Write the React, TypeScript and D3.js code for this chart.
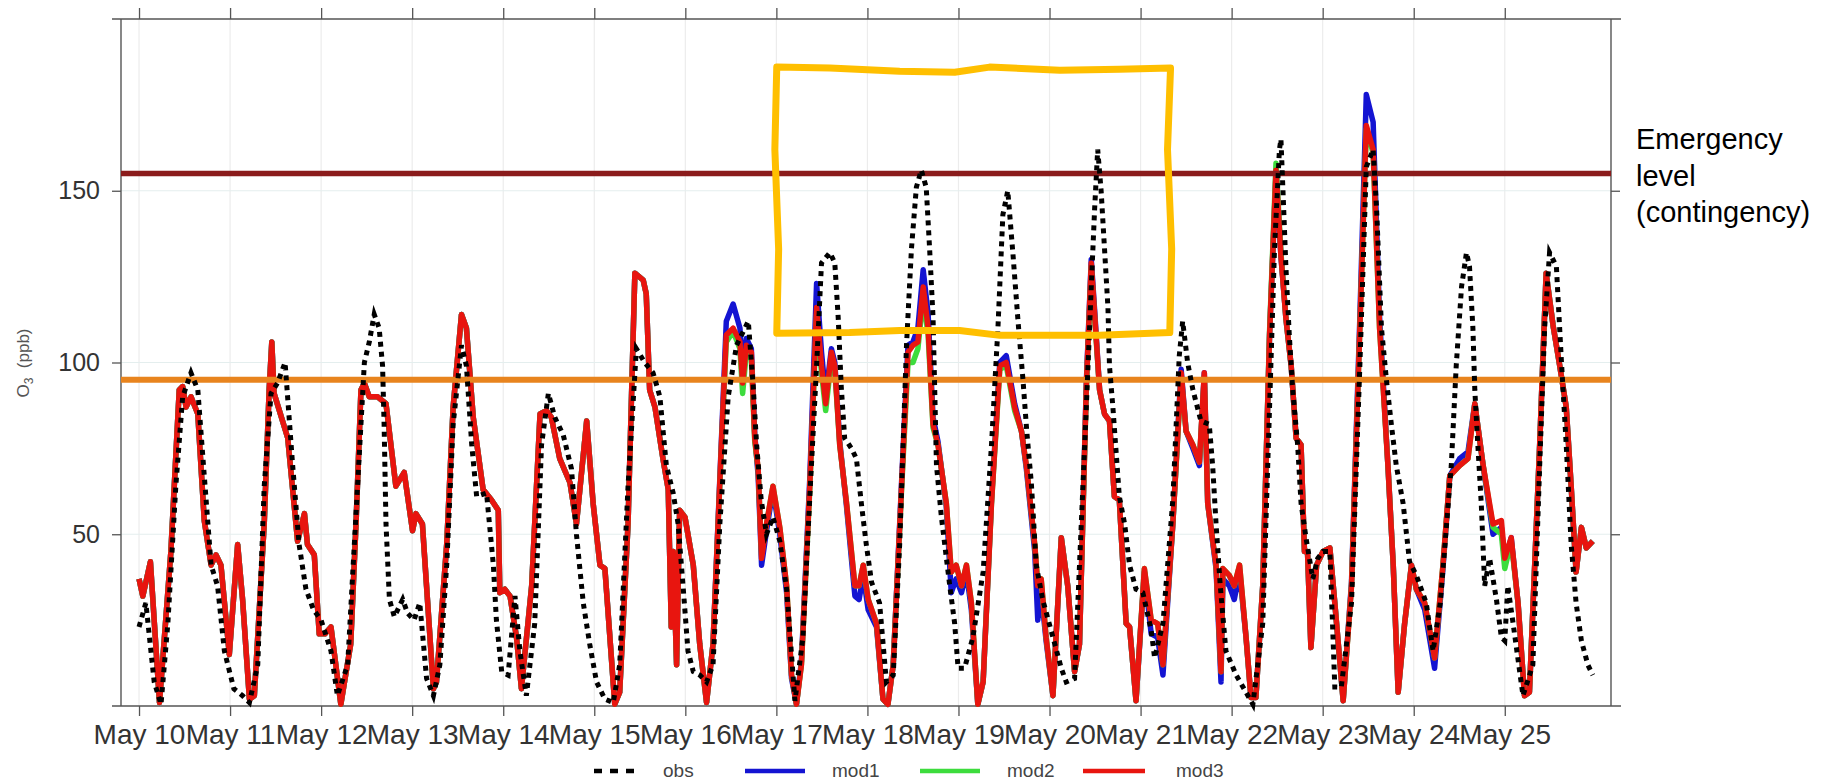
import React, { useEffect, useRef } from 'react';
import * as d3 from 'd3';

// day ticks along the time axis
const dayLabels = [
  'May 10', 'May 11', 'May 12', 'May 13', 'May 14', 'May 15', 'May 16', 'May 17',
  'May 18', 'May 19', 'May 20', 'May 21', 'May 22', 'May 23', 'May 24', 'May 25',
];
const yTickValues = [50, 100, 150];
const legendNames = ['obs', 'mod1', 'mod2', 'mod3'];
const emergencyLevel = 155;
const alertLevel = 95;
const noteLines = ['Emergency', 'level', '(contingency)'];

// observed O3, hours after May 10 00:00
const obsHours = [
  0, 1.8, 4, 5.8, 7.6, 9.7, 11.5, 13.7, 15.5, 17.2, 19, 20.7, 22.5, 25, 27.3,
  29.1, 31.3, 33, 34.8, 36.5, 38.5, 40.5, 42.2, 44, 46, 48, 50.6, 52.3, 55, 57.6,
  59.4, 60.7, 62, 63.3, 64.2, 64.6, 65.1, 66, 67.3, 69.5, 70.8, 72.5, 74, 75.8, 77.6,
  79.3, 81.1, 82.8, 85, 86.3, 87.7, 89, 91.6, 93.4, 94.2, 95.6, 97.3, 99.1, 100.4, 102.1,
  104.3, 106.1, 107.9, 109.6, 111.8, 114, 115.3, 117.1, 118.8, 120.6, 122.8, 125, 126.7, 128.9, 131.1,
  133.3, 135.5, 137.3, 139, 140.8, 142.1, 143.4, 144.7, 146.1, 147.8, 149.6, 151.3, 153.1, 155.3, 157.5,
  160.6, 161.9, 162.8, 164, 165.4, 167.1, 168.9, 170.7, 172.9, 175, 177, 178.6, 179.9, 182.1, 183.4,
  184.3, 185.1, 186, 187.8, 189.1, 190.4, 191.7, 193.1, 195.2, 197, 198.8, 200.5, 202.3, 203.6, 204.9,
  206.2, 207.5, 208.4, 209.3, 210.2, 211.5, 213.7, 215, 215.9, 217.6, 219.8, 222.5, 224.7, 226.4, 227.7,
  229, 230.4, 231.7, 233, 234, 235.2, 236.5, 238.2, 240.9, 243.1, 244.4, 246.6, 247.9, 249.7, 251,
  251.9, 252.7, 253.6, 254.5, 255.4, 255.8, 256.7, 258.4, 259.8, 261.1, 262.8, 264.6, 266.8, 267.7, 269.9,
  272.5, 274.2, 275.1, 276.4, 277.8, 279.9, 282.1, 283, 283.9, 285, 286.5, 289.2, 291, 293.6, 296.2,
  298, 299.3, 300.6, 301, 301.5, 302.3, 303.2, 304.1, 305.4, 306.3, 307.6, 309.4, 310.7, 312.1, 313.9,
  315.2, 316.9, 319.6, 321.8, 323.5, 325.3, 326.2, 327.5, 328.8, 330.1, 331.4, 333.2, 334.9, 336.7, 339.3,
  341.1, 343, 345.9, 347.2, 348.6, 349.9, 350.7, 351.6, 352.1, 352.9, 353.8, 354.7, 356, 357.8, 359.1,
  360, 360.8, 362.2, 364.8, 367.4, 369.2, 370.5, 371.8, 373.6, 374.9, 376.2, 377.5, 378.8, 380.2, 381.9, 383.2,
];
const obsValues = [
  23, 30, 7, 0.5, 24, 64, 90, 97, 92, 67, 41, 35, 16, 5, 3,
  1, 12, 64, 91, 94, 100, 70, 47, 34, 28, 25, 16, 3, 12, 64,
  100, 106, 114, 110, 99, 82, 53, 31, 26, 31, 27, 25, 30, 8, 3,
  12, 41, 82, 105, 99, 76, 61, 62, 41, 25, 10, 9, 32, 16, 3,
  24, 76, 91, 84, 79, 69, 50, 30, 18, 7, 2, 1, 12, 64, 104,
  100, 97, 90, 70, 62, 53, 35, 16, 10, 9, 7, 12, 53, 90, 105,
  112, 93, 76, 60, 50, 55, 48, 34, 1.5, 20, 65, 99, 129, 132, 129,
  113, 93, 78, 75, 72, 59, 47, 36, 30, 7, 9, 47, 105, 133, 151,
  156, 151, 133, 113, 70, 55, 35, 24, 11, 11, 20, 39, 76, 110, 143,
  150, 131, 112, 95, 80, 65, 41, 31, 20, 11, 7, 8, 41, 87, 122,
  145, 162, 150, 133, 116, 99, 87, 61, 53, 41, 34, 33, 22, 14, 24,
  60, 102, 112, 100, 92, 83, 82, 70, 53, 35, 16, 9, 5.5, 0.5, 24,
  87, 133, 162, 165, 151, 128, 108, 92, 76, 59, 49, 37, 43, 45, 45,
  5.5, 5.5, 30, 99, 157, 162, 145, 110, 95, 82, 70, 59, 42, 38, 30,
  16, 30, 70, 99, 122, 132, 128, 110, 92, 76, 59, 35, 43, 31, 20,
  19, 35, 24, 3, 12, 70, 110, 132, 128, 101, 76, 47, 30, 19, 12, 9,
];

// model runs share one time grid
const modelHours = [
  0, 1, 3, 5.4, 8.4, 10.6, 11.5, 12.4, 13.7, 15.5, 17.2, 19, 20.3, 21.6, 23.8,
  26, 27.3, 29.1, 30.4, 33, 34.3, 35, 35.6, 37, 39.2, 41.8, 43.6, 44.4, 46.2, 47.5,
  49, 50.6, 53.2, 55.8, 57.2, 58.5, 59.4, 60.7, 62.9, 65.1, 67.7, 69.9, 72.1, 73, 74.7,
  77.6, 78.4, 81.1, 82.8, 85, 86.3, 88.1, 90.7, 92.9, 94.7, 95.1, 96.4, 97.8, 99.5, 100.8,
  103.5, 105.7, 107.4, 108.7, 110.9, 113.6, 115.3, 118, 119.7, 121.5, 122.8, 125.4, 126.7, 128.9, 130.7,
  132.9, 133.7, 134.6, 136, 138.1, 139.5, 140.3, 140.8, 141.7, 142.5, 143.9, 146.1, 147.8, 149.6, 151.3,
  153.5, 154.8, 156.6, 158.4, 159.1, 160.1, 161.4, 162.3, 163.2, 164.1, 165.4, 167.1, 168.9, 170.7, 172,
  173.3, 174.6, 176.8, 178.6, 179.9, 181, 182.5, 183.4, 184.7, 186.5, 188.7, 189.8, 190.9, 192.2, 194.4,
  196.1, 197.4, 198.8, 201, 202.7, 204, 205.3, 206.7, 208, 209.3, 210.6, 212.8, 214.1, 215.4, 216.8,
  218.1, 219.4, 221.1, 222.5, 224.7, 226.9, 228.6, 230.8, 232.6, 233.9, 236.1, 236.9, 237.8, 239.1, 240.9,
  243.1, 244.8, 246.6, 247.9, 249.7, 251, 251.9, 253.2, 254.5, 255.8, 257.1, 258.4, 260.2, 261.1, 262.8,
  265, 266.8, 268.5, 269.9, 272.5, 274.7, 276, 277.8, 279.5, 280.8, 281.7, 283.9, 285.2, 285.7, 287.4,
  288.7, 290.1, 291.8, 293.1, 294.4, 296.2, 298, 299.7, 301, 302.3, 303.7, 305, 306.3, 307.2, 308,
  308.9, 310.4, 312.1, 313.9, 315.2, 317.4, 319.6, 321.8, 323.5, 325.3, 327, 329.2, 330.6, 331.9, 333.6,
  335.4, 336.7, 338.9, 341.5, 343.7, 345.5, 348.1, 350.3, 352.1, 354.3, 356.9, 359.1, 360, 361.7, 363.5,
  365.2, 366.5, 369.2, 370.9, 372.7, 374.5, 376.2, 377.5, 378.8, 380.2, 381.5, 383.2,
];
const mod1Values = [
  37, 32, 42, 1, 45, 92, 93, 87, 90, 85, 54, 41, 44, 41, 15,
  47, 31, 2, 3, 53, 92, 106, 91, 86, 78, 48, 56, 47, 44, 21,
  21, 23, 0.5, 18, 53, 92, 94, 90, 90, 88, 64, 68, 51, 56, 53,
  5, 7, 47, 87, 114, 110, 84, 63, 60, 57, 33, 34, 32, 20, 5,
  35, 85, 86, 84, 72, 65, 53, 83, 59, 41, 40, 0.5, 4, 53, 126,
  124, 120, 92, 87, 72, 63, 23, 45, 12, 57, 55, 41, 18, 1, 18,
  77, 112, 117, 110, 97, 107, 104, 79, 67, 41, 51, 63, 50, 33, 8,
  0.5, 13, 66, 123, 103, 90, 104, 100, 77, 58, 32, 31, 38, 28, 23,
  2, 0.5, 12, 65, 105, 106, 110, 127, 114, 84, 77, 58, 33, 37, 33,
  39, 28, 0.5, 7, 60, 100, 102, 88, 80, 69, 45, 25, 33, 19, 3,
  49, 35, 10, 18, 94, 130, 115, 92, 85, 83, 61, 60, 24, 23, 1.5,
  39, 21, 20, 9, 53, 98, 80, 75, 70, 97, 59, 40, 7, 37, 35,
  31, 39, 20, 2.5, 2.5, 35, 108, 155, 131, 113, 99, 78, 76, 45, 45,
  17, 41, 45, 46, 30, 1.5, 36, 113, 178, 170, 113, 70, 41, 4, 24,
  41, 34, 28, 11, 40, 67, 72, 74, 88, 70, 50, 52, 42, 49, 30,
  3, 4, 76, 126, 111, 99, 87, 64, 39, 52, 46, 48,
];
const mod2Values = [
  37, 32, 42, 1, 45, 92, 93, 87, 90, 85, 54, 41, 44, 41, 15,
  47, 31, 2, 3, 53, 92, 106, 91, 86, 78, 48, 56, 47, 44, 21,
  21, 23, 0.5, 18, 53, 92, 94, 90, 90, 88, 64, 68, 51, 56, 53,
  5, 7, 47, 87, 114, 110, 84, 63, 60, 57, 33, 34, 32, 20, 5,
  35, 85, 86, 84, 72, 65, 53, 83, 59, 41, 40, 0.5, 4, 53, 126,
  124, 120, 92, 87, 72, 63, 23, 45, 12, 57, 55, 41, 18, 1, 18,
  75, 106, 109, 104, 91, 103, 101, 77, 69, 44, 53, 64, 52, 35, 9,
  0.5, 12, 63, 114, 97, 86, 101, 98, 76, 59, 35, 35, 41, 31, 24,
  2, 0.5, 12, 63, 100, 100, 104, 119, 108, 81, 76, 59, 39, 41, 35,
  41, 30, 0.5, 7, 59, 98, 99, 86, 80, 70, 47, 36, 37, 20, 3,
  49, 35, 10, 18, 92, 128, 113, 92, 85, 83, 61, 60, 24, 23, 1.5,
  40, 25, 24, 12, 53, 96, 80, 76, 71, 96, 59, 41, 10, 40, 38,
  35, 41, 20, 2.5, 2.5, 35, 109, 158, 132, 113, 99, 78, 76, 45, 45,
  17, 41, 45, 46, 30, 1.5, 35, 110, 168, 161, 110, 70, 41, 4, 24,
  41, 34, 30, 14, 41, 67, 70, 72, 88, 70, 52, 50, 40, 48, 30,
  3, 4, 76, 126, 111, 99, 87, 64, 39, 52, 46, 48,
];
const mod3Values = [
  37, 32, 42, 1, 45, 92, 93, 87, 90, 85, 54, 41, 44, 41, 15,
  47, 31, 2, 3, 53, 92, 106, 91, 86, 78, 48, 56, 47, 44, 21,
  21, 23, 0.5, 18, 53, 92, 94, 90, 90, 88, 64, 68, 51, 56, 53,
  5, 7, 47, 87, 114, 110, 84, 63, 60, 57, 33, 34, 32, 20, 5,
  35, 85, 86, 84, 72, 65, 53, 83, 59, 41, 40, 0.5, 4, 53, 126,
  124, 120, 92, 87, 72, 63, 23, 45, 12, 57, 55, 41, 18, 1, 18,
  76, 108, 110, 106, 94, 105, 103, 78, 69, 43, 53, 64, 52, 35, 9,
  0.5, 12, 64, 116, 99, 88, 103, 99, 76, 59, 35, 35, 41, 31, 24,
  2, 0.5, 12, 64, 103, 105, 106, 122, 110, 82, 76, 59, 39, 41, 35,
  41, 30, 0.5, 7, 59, 99, 100, 87, 80, 70, 47, 35, 37, 20, 3,
  49, 35, 10, 18, 93, 129, 114, 92, 85, 83, 61, 60, 24, 23, 1.5,
  40, 25, 24, 12, 53, 97, 80, 76, 71, 97, 59, 41, 10, 40, 38,
  35, 41, 20, 2.5, 2.5, 35, 108, 156, 131, 113, 99, 78, 76, 45, 45,
  17, 41, 45, 46, 30, 1.5, 35, 110, 169, 162, 110, 70, 41, 4, 24,
  41, 34, 30, 14, 41, 67, 70, 72, 88, 70, 53, 54, 43, 49, 30,
  3, 4, 76, 126, 111, 99, 87, 64, 39, 52, 46, 48,
];

// hand drawn highlight box, in hours / ppb
const boxHours = [168.1, 182.1, 200.5, 215, 224.2, 242.7, 258.5, 271.9, 271.1, 272.2, 271.7, 253.2, 226.9, 216.3, 200.5, 187.3, 168.1, 168.6, 167.6];
const boxValues = [186, 185.7, 184.8, 184.5, 186, 185.1, 185.4, 185.7, 162, 133, 108.7, 107.9, 107.9, 109.3, 109.3, 108.7, 108.5, 133, 162];

const FONT = '"Liberation Sans", Arial, Helvetica, sans-serif';

export default function App() {
  const svgRef = useRef<SVGSVGElement>(null);

  useEffect(() => {
    const width = 1825;
    const height = 783;
    const left = 121, right = 1611, top = 19, bottom = 706;

    const svg = d3.select(svgRef.current)
      .attr('width', width)
      .attr('height', height);
    svg.selectAll('*').remove();

    const t0 = Date.UTC(2016, 4, 10);
    const toDate = (h: number) => new Date(t0 + h * 3600e3);
    const days = dayLabels.map((_, i) => toDate(i * 24));

    // scales
    const x = d3.scaleUtc()
      .domain([toDate(-4.75), toDate(388)])
      .range([left, right]);
    const y = d3.scaleLinear()
      .domain([0, 200])
      .range([bottom, top]);

    // grid
    svg.append('g').selectAll('line')
      .data(days)
      .join('line')
        .attr('x1', d => x(d)).attr('x2', d => x(d))
        .attr('y1', top).attr('y2', bottom)
        .attr('stroke', '#ececec').attr('stroke-width', 1.2);
    svg.append('g').selectAll('line')
      .data(yTickValues)
      .join('line')
        .attr('x1', left).attr('x2', right)
        .attr('y1', d => y(d)).attr('y2', d => y(d))
        .attr('stroke', '#e4eeee').attr('stroke-width', 1.2);

    // axes
    const styleAxis = (g: any) => {
      g.select('.domain').remove();
      g.selectAll('.tick line').attr('stroke', '#555').attr('stroke-width', 1.3);
      g.selectAll('.tick text')
        .attr('fill', '#333')
        .style('font-family', FONT);
    };
    svg.append('g')
      .attr('transform', `translate(0, ${bottom})`)
      .call(d3.axisBottom(x).tickValues(days).tickFormat((d, i) => dayLabels[i]).tickSize(10).tickPadding(8))
      .call(styleAxis)
      .selectAll('.tick text').style('font-size', '28px');
    svg.append('g')
      .attr('transform', `translate(0, ${top})`)
      .call(d3.axisTop(x).tickValues(days).tickFormat(() => '').tickSize(11))
      .call(styleAxis);
    svg.append('g')
      .attr('transform', `translate(${left}, 0)`)
      .call(d3.axisLeft(y).tickValues(yTickValues).tickSize(9).tickPadding(12))
      .call(styleAxis)
      .selectAll('.tick text').style('font-size', '25px');
    svg.append('g')
      .attr('transform', `translate(${right}, 0)`)
      .call(d3.axisRight(y).tickValues(yTickValues).tickFormat(() => '').tickSize(9))
      .call(styleAxis);

    // frame
    const frame = svg.append('g').attr('stroke', '#555').attr('stroke-width', 1.4);
    frame.append('line').attr('x1', left - 9).attr('x2', right + 10).attr('y1', top).attr('y2', top);
    frame.append('line').attr('x1', left - 9).attr('x2', right + 10).attr('y1', bottom).attr('y2', bottom);
    frame.append('line').attr('x1', left).attr('x2', left).attr('y1', top).attr('y2', bottom);
    frame.append('line').attr('x1', right).attr('x2', right).attr('y1', top).attr('y2', bottom);

    // model lines
    const line = d3.line<number>()
      .x((d, i) => x(toDate(modelHours[i])))
      .y(d => y(d));
    const models = [
      { values: mod1Values, color: '#1414d2' },
      { values: mod2Values, color: '#3ddc3d' },
      { values: mod3Values, color: '#e8150f' },
    ];
    svg.append('g').selectAll('path')
      .data(models)
      .join('path')
        .attr('d', d => line(d.values))
        .attr('fill', 'none')
        .attr('stroke', d => d.color)
        .attr('stroke-width', 5.5)
        .attr('stroke-linejoin', 'round');

    // thresholds
    svg.append('line')
      .attr('x1', left).attr('x2', right)
      .attr('y1', y(alertLevel)).attr('y2', y(alertLevel))
      .attr('stroke', '#e8841e').attr('stroke-width', 6);
    svg.append('line')
      .attr('x1', left).attr('x2', right)
      .attr('y1', y(emergencyLevel)).attr('y2', y(emergencyLevel))
      .attr('stroke', '#8b1c1c').attr('stroke-width', 5.5);

    // observations
    const obsLine = d3.line<number>()
      .x((d, i) => x(toDate(obsHours[i])))
      .y(d => y(d));
    svg.append('path')
      .attr('d', obsLine(obsValues))
      .attr('fill', 'none')
      .attr('stroke', '#000')
      .attr('stroke-width', 5)
      .attr('stroke-dasharray', '5 5');

    // y label
    const yLabel = svg.append('text')
      .attr('transform', 'translate(29, 363) rotate(-90)')
      .attr('text-anchor', 'middle')
      .attr('fill', '#555')
      .style('font-family', FONT)
      .style('font-size', '17px');
    yLabel.append('tspan').text('O');
    yLabel.append('tspan').attr('dy', 4).style('font-size', '12px').text('3');
    yLabel.append('tspan').attr('dy', -4).text('\u00a0\u00a0(ppb)');

    // legend
    const legendLineX = [594, 745, 920, 1083];
    const legendLineLen = [40, 60, 60, 62];
    const legendTextX = [663, 832, 1007, 1176];
    const legendColors = ['#000', '#1414d2', '#3ddc3d', '#e8150f'];
    const legend = svg.append('g');
    legendNames.forEach((name, i) => {
      legend.append('line')
        .attr('x1', legendLineX[i]).attr('x2', legendLineX[i] + legendLineLen[i])
        .attr('y1', 771).attr('y2', 771)
        .attr('stroke', legendColors[i])
        .attr('stroke-width', 4.5)
        .attr('stroke-dasharray', i === 0 ? '8 8' : null);
      legend.append('text')
        .attr('x', legendTextX[i])
        .attr('y', 777)
        .attr('fill', '#444')
        .style('font-family', FONT)
        .style('font-size', '19px')
        .text(name);
    });

    // note on the right
    svg.append('g').selectAll('text')
      .data(noteLines)
      .join('text')
        .attr('x', 1636)
        .attr('y', (d, i) => 149 + i * 36.5)
        .attr('fill', '#000')
        .style('font-family', FONT)
        .style('font-size', '29px')
        .text(d => d);

    // highlight box
    const boxLine = d3.line<number>()
      .x((d, i) => x(toDate(boxHours[i])))
      .y(d => y(d))
      .curve(d3.curveLinearClosed);
    svg.append('path')
      .attr('d', boxLine(boxValues))
      .attr('fill', 'none')
      .attr('stroke', '#ffbf00')
      .attr('stroke-width', 7)
      .attr('stroke-linejoin', 'round');
  }, []);

  return (
    <svg ref={svgRef} style={{ position: 'absolute', left: 0, top: 0, display: 'block', background: '#fff' }}></svg>
  );
}
